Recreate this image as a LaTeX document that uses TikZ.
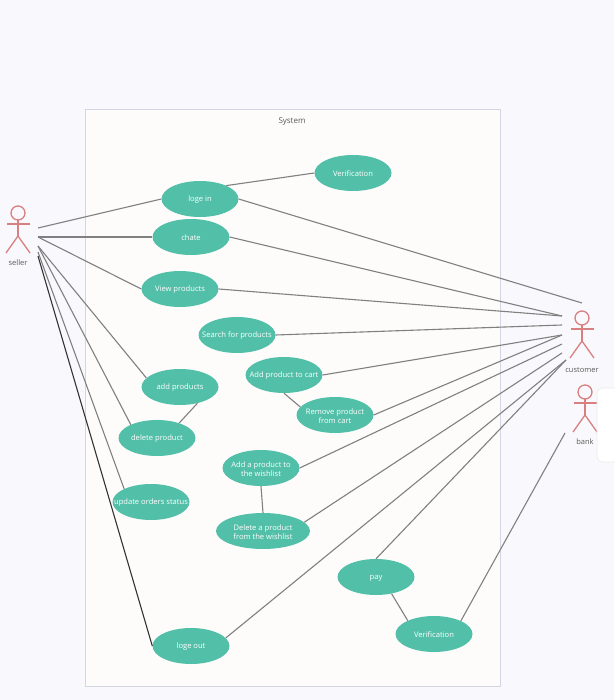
\documentclass[tikz,border=0pt]{standalone}
\usepackage{fontspec}
\setmainfont{Open Sans}
\usetikzlibrary{shapes.geometric}
\definecolor{pagebg}{HTML}{F9F9FD}
\definecolor{sysfill}{HTML}{FDFCFA}
\definecolor{sysline}{HTML}{D3D5E2}
\definecolor{uc}{HTML}{52BFA8}
\definecolor{actorc}{HTML}{D88080}
\definecolor{linec}{HTML}{808080}
\definecolor{txt}{HTML}{5A5A5A}
\tikzset{
  every node/.style={font=\fontsize{7.6}{10.5}\selectfont},
  uct/.style={ellipse,fill=uc,text=white,minimum width=77pt,minimum height=36pt,inner sep=0pt,align=center},
  conn/.style={draw=linec,line width=1.1pt},
  actorline/.style={draw=actorc,line width=1.3pt},
  lab/.style={text=txt,inner sep=0pt,font=\fontsize{7.5}{9}\selectfont},
}
\newcommand{\w}[1]{\makebox[0pt][c]{\raisebox{-0.9pt}[\height][\depth]{#1}}}
\newcommand{\actorfig}[1]{%
  \begin{scope}[shift={(#1)}]
    \draw[actorline] (0,0) circle (7);
    \draw[actorline] (0,7) -- (0,23);
    \draw[actorline] (-11.5,11) -- (11.5,11);
    \draw[actorline] (-12,40) -- (0,23) -- (12,40);
  \end{scope}}
\begin{document}
\begin{tikzpicture}[x=1pt,y=-1pt]
\useasboundingbox (0,0) rectangle (614,700);
\fill[pagebg] (0,0) rectangle (614,700);
\draw[fill=sysfill,draw=sysline,line width=1pt] (85,110) rectangle (500,686);
\node[lab,font=\fontsize{8}{10}\selectfont] (systemlabel) at (292,121.5) {System};

\node[uct] (login) at (200,199) {\w{loge in}};
\node[uct] (verif1) at (353,173) {\w{Verification}};
\node[uct] (chate) at (191,237) {\w{chate}};
\node[uct] (view) at (180,289) {\w{View products}};
\node[uct] (search) at (237,335) {\w{Search for products}};
\node[uct] (addcart) at (284,375) {\w{Add product to cart}};
\node[uct] (addprod) at (180,387) {\w{add products}};
\node[uct] (remove) at (335,415) {\w{Remove product}\\[-1pt]\w{from cart}};
\node[uct] (delprod) at (157,438) {\w{delete product}};
\node[uct] (addwish) at (261,468) {\w{Add a product to}\\[-1pt]\w{the wishlist}};
\node[uct] (update) at (151,502) {\w{update orders status}};
\node[uct,minimum width=94pt] (delwish) at (263,531) {\w{Delete a product}\\[-1pt]\w{from the wishlist}};
\node[uct] (pay) at (376,577) {\w{pay}};
\node[uct] (verif2) at (434,634) {\w{Verification}};
\node[uct] (logout) at (191,646) {\w{loge out}};

\coordinate (sa) at (38,228);
\coordinate (sb) at (38,237);
\coordinate (sc) at (38,246);
\coordinate (sd) at (38,252);
\coordinate (se) at (38,256);
\coordinate (ca) at (582,303);
\coordinate (cb) at (562,316);
\coordinate (cc) at (562,325);
\coordinate (cd) at (562,335);
\coordinate (ce) at (562,344);
\coordinate (cf) at (562,353);
\coordinate (cg) at (566,360);
\coordinate (ba) at (565,433);

\draw[conn] (sa) -- (login.west);
\draw[conn] (sb) -- (chate.west);
\draw[conn] (sb) -- (view.west);
\draw[conn] (sc) -- (addprod.165);
\draw[conn] (sc) -- (delprod.153);
\draw[conn] (sd) -- (update.154);
\draw[draw=black!80,line width=1.1pt] (se) -- (logout.west);
\draw[conn] (login.27) -- (verif1.west);
\draw[conn] (addprod.-43) -- (delprod.34);
\draw[conn] (addcart.south) -- (remove.167);
\draw[conn] (addwish.south) -- (delwish.north);
\draw[conn] (pay.-47) -- (verif2.153);
\draw[conn] (login.east) -- (ca);
\draw[conn] (chate.east) -- (cb);
\draw[conn] (view.east) -- (cb);
\draw[conn] (search.east) -- (cc);
\draw[conn] (addcart.east) -- (cd);
\draw[conn] (remove.east) -- (cd);
\draw[conn] (addwish.east) -- (ce);
\draw[conn] (delwish.12) -- (cf);
\draw[conn] (pay.north) -- (cg);
\draw[conn] (logout.13) -- (cg);
\draw[conn] (verif2.26) -- (ba);

\actorfig{18,213}
\actorfig{582,318}
\actorfig{585,392}
\node[lab] (sellerlabel) at (18,262.5) {seller};
\node[lab] (customerlabel) at (582,370) {customer};
\node[lab] (banklabel) at (585,441.5) {bank};
\draw[draw=black!8,fill=white,rounded corners=5pt,line width=0.7pt] (597,388) rectangle (630,462);
\end{tikzpicture}
\end{document}
